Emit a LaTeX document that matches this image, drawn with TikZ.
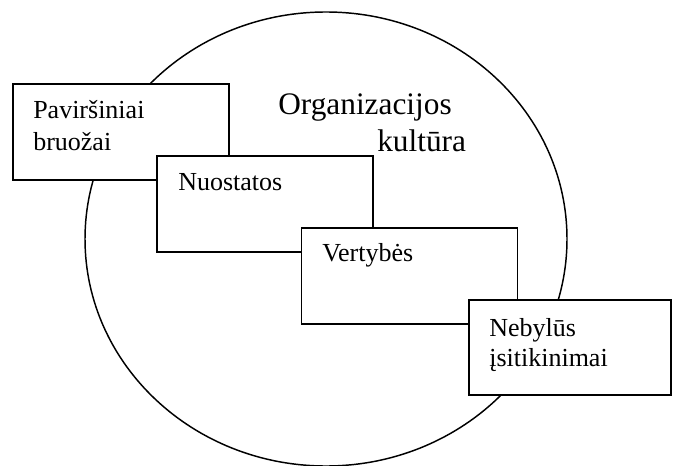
\documentclass[tikz,border=0pt]{standalone}
\usepackage{fontspec}
\setmainfont{Liberation Serif}
\begin{document}
\begin{tikzpicture}[x=0.75pt,y=-0.75pt,
  layer/.style={draw=black, line width=1.1pt, fill=white, rectangle,
    minimum width=162pt, minimum height=72pt, inner sep=0pt},
  label/.style={anchor=base west, inner sep=0pt, font=\fontsize{19.5pt}{24pt}\selectfont},
  title/.style={anchor=base west, inner sep=0pt, font=\fontsize{23.5pt}{28pt}\selectfont}]
  \useasboundingbox (0,0) rectangle (673,466);
  % the culture as a whole
  \draw[line width=1.1pt] (326,239) ellipse [x radius=241, y radius=227];
  \node[title] (t1) at (278,115) {Organizacijos};
  \node[title] (t2) at (377,152) {kultūra};
  % overlapping layers, from the surface down
  \node[layer] (b1) at (121,132) {};
  \node[label] (l1a) at (33,119) {Paviršiniai};
  \node[label] (l1b) at (33,151) {bruožai};
  \node[layer] (b2) at (265,204) {};
  \node[label] (l2) at (178,191) {Nuostatos};
  \node[layer] (b3) at (409.5,276) {};
  \node[label] (l3) at (322,262) {Vertybės};
  \node[layer, minimum width=151.5pt, minimum height=71.25pt] (b4) at (570,347.5) {};
  \node[label] (l4a) at (489,336) {Nebylūs};
  \node[label] (l4b) at (489,366) {įsitikinimai};
\end{tikzpicture}
\end{document}
